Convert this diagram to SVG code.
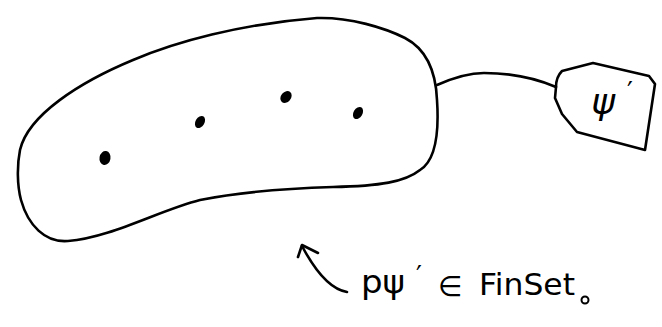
<svg xmlns="http://www.w3.org/2000/svg" width="662" height="327" viewBox="0 0 662 327">
<style>
.ln{fill:none;stroke:#000;stroke-width:2.6;stroke-linecap:round;stroke-linejoin:round}
.dot{fill:#000}
.t{font-family:"DejaVu Sans","Liberation Sans",sans-serif;fill:#000}
</style>
<rect width="662" height="327" fill="#fff"/>
<g id="set">
<path class="ln" d="M20,150 C28,115 80,82 133,60 C175,42 240,24 317,18 C350,17 385,28 405,38 C428,50 436,75 437,100 C439,130 436,160 420,170 C405,182 380,186 333,187 C300,188 250,190 200,200 C160,210 110,238 68,241 C45,243 28,225 21,200 C17,185 17,165 20,150 Z"/>
<ellipse class="dot" cx="286" cy="97" rx="5" ry="6.5" transform="rotate(40 286 97)"/>
<ellipse class="dot" cx="200" cy="122" rx="4.5" ry="6.5" transform="rotate(30 200 122)"/>
<ellipse class="dot" cx="358" cy="113" rx="4.5" ry="6.5" transform="rotate(30 358 113)"/>
<ellipse class="dot" cx="105" cy="158" rx="5.5" ry="7" transform="rotate(10 105 158)"/>
</g>
<g id="connectors">
<path class="ln" d="M437,85 C455,77 470,73 484,73 C510,73 535,78 556,87"/>
<path class="ln" d="M347,292 C335,290 320,280 302,246"/>
<path class="ln" d="M298,257 L302,245 L318,253"/>
</g>
<g id="tag">
<path class="ln" d="M556,87 C556,80 558,75 562,71 L593,63 L649,76 L655,84 L645,150 L577,132 L562,114 L555,98 Z"/>
<text class="t" x="603" y="114" font-size="36" font-style="italic" text-anchor="middle">ψ</text>
<text class="t" x="627" y="101" font-size="26">′</text>
</g>
<g id="label">
<text class="t" x="361" y="293" font-size="32" textLength="44" lengthAdjust="spacingAndGlyphs">pψ</text>
<text class="t" x="416" y="285" font-size="26">′</text>
<text class="t" x="438" y="296" font-size="28">∈</text>
<text class="t" x="479" y="295" font-size="30" textLength="96" lengthAdjust="spacingAndGlyphs">FinSet</text>
<circle cx="585" cy="300" r="3.5" fill="none" stroke="#000" stroke-width="2"/>
</g>
</svg>
